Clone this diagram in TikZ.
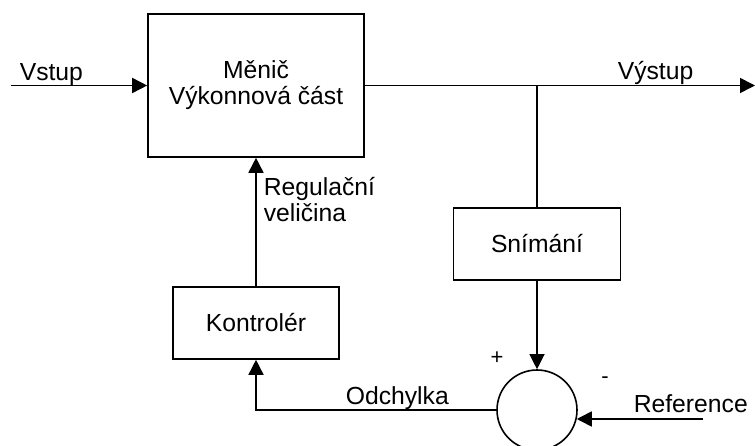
\documentclass[tikz,border=0pt]{standalone}
\usepackage{fontspec}
\setmainfont{Liberation Sans}
\usetikzlibrary{arrows.meta}

\begin{document}
\begin{tikzpicture}[x=1pt, y=-1pt, line width=1.6pt,
    font=\fontsize{24.7}{26}\selectfont,
    blok/.style={draw, inner sep=0pt, align=center},
    arr/.style={-{Triangle[length=15pt, width=15pt]}}]
  \useasboundingbox (0,0) rectangle (755,446);
  % blocks
  \node[blok, minimum width=216pt, minimum height=143pt] (menic) at (256,85.5) {M\v{e}ni\v{c}\\V\'ykonnov\'a \v{c}\'ast};
  \node[blok, minimum width=166pt, minimum height=72pt] (kontr) at (256,323) {Kontrol\'er};
  \node[blok, minimum width=167pt, minimum height=72pt] (snim) at (537,244) {Sn\'im\'an\'i};
  \node[draw, circle, minimum size=80pt, inner sep=0pt] (sum) at (537,410) {};
  % free ends
  \coordinate (in) at (11,85.5);
  \coordinate (out) at (755,85.5);
  \coordinate (tap) at (537,85.5);
  \coordinate (ref) at (703,419);
  % labels
  \node[anchor=base west, inner sep=0pt] (lvstup) at (19,81) {Vstup};
  \node[anchor=base west, inner sep=0pt] (lvystup) at (617,80) {V\'ystup};
  \node[anchor=base west, inner sep=0pt, align=left] (lreg) at (263,222) {Regula\v{c}n\'i\\veli\v{c}ina};
  \node[anchor=base west, inner sep=0pt] (lodch) at (345,404) {Odchylka};
  \node[anchor=base west, inner sep=0pt] (lref) at (633,412) {Reference};
  \node[font=\fontsize{22}{24}\selectfont] (lplus) at (497,358) {+};
  \node[font=\fontsize{22}{24}\selectfont] (lminus) at (605,380) {-};
  % connectors
  \draw[arr] (in) -- (in -| menic.west);
  \draw[arr] (menic.east) -- (out);
  \draw[line width=1.2pt] (tap) -- (snim.north);
  \draw[arr, line width=1.2pt] (snim.south) -- (sum.north);
  \draw[arr] (ref) -- (ref -| sum.-13);
  \draw[arr] (sum.west) -| (kontr.south);
  \draw[arr] (kontr.north) -- (menic.south);
\end{tikzpicture}
\end{document}
